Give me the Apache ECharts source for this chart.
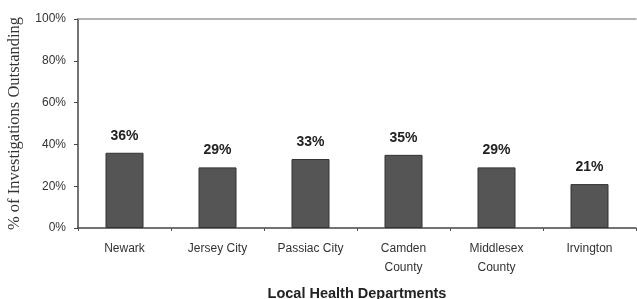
<!DOCTYPE html>
<html>
<head>
<meta charset="utf-8">
<script src="https://cdn.jsdelivr.net/npm/echarts@6/dist/echarts.min.js"></script>
<style>
  html, body { margin: 0; padding: 0; background: #fff; }
  #chart { width: 637px; height: 299px; }
</style>
</head>
<body>
<div id="chart"></div>
<script>
// data
const departments = ['Newark', 'Jersey City', 'Passiac City', 'Camden\nCounty', 'Middlesex\nCounty', 'Irvington'];
const outstanding = [36, 29, 33, 35, 29, 21];
const yTicks = [0, 20, 40, 60, 80, 100];

const myChart = echarts.init(document.getElementById('chart'));

const option = {
  animation: false,
  grid: {
    left: 78,
    right: 1,
    top: 19,
    bottom: 71,
    containLabel: false,
    outerBoundsMode: 'none'
  },
  xAxis: [
    {
      type: 'category',
      data: departments,
      name: 'Local Health Departments',
      nameLocation: 'middle',
      nameGap: 58,
      nameTextStyle: { fontFamily: 'Liberation Sans', fontWeight: 'bold', fontSize: 14.5, color: '#222' },
      axisLine: { lineStyle: { color: '#444', width: 1.5 } },
      axisTick: { show: true, length: 3, alignWithLabel: false, lineStyle: { color: '#555' } },
      axisLabel: { fontFamily: 'Liberation Sans', fontSize: 12, color: '#333', margin: 11, lineHeight: 19 }
    },
    {
      type: 'category',
      position: 'top',
      data: departments,
      axisLine: { lineStyle: { color: '#999', width: 1.5 } },
      axisTick: { show: false },
      axisLabel: { show: false }
    }
  ],
  yAxis: {
    type: 'value',
    min: 0,
    max: 100,
    interval: 20,
    name: '% of Investigations Outstanding',
    nameLocation: 'middle',
    nameGap: 55,
    nameTextStyle: { fontFamily: 'Liberation Serif', fontSize: 16.5, color: '#333' },
    axisLine: { show: true, lineStyle: { color: '#444', width: 1.5 } },
    axisTick: { show: true, length: 4, lineStyle: { color: '#444' } },
    splitLine: { show: false },
    axisLabel: {
      fontFamily: 'Liberation Sans',
      fontSize: 12,
      color: '#333',
      margin: 12,
      formatter: function (v) { return yTicks.indexOf(v) >= 0 ? v + '%' : ''; }
    }
  },
  series: [
    {
      type: 'bar',
      data: outstanding,
      barWidth: 38,
      itemStyle: { color: '#555', borderColor: '#333', borderWidth: 1 },
      label: {
        show: true,
        position: 'top',
        distance: 10,
        fontFamily: 'Liberation Sans',
        fontWeight: 'bold',
        fontSize: 14,
        color: '#222',
        formatter: '{c}%'
      }
    }
  ]
};

myChart.setOption(option);
</script>
</body>
</html>
